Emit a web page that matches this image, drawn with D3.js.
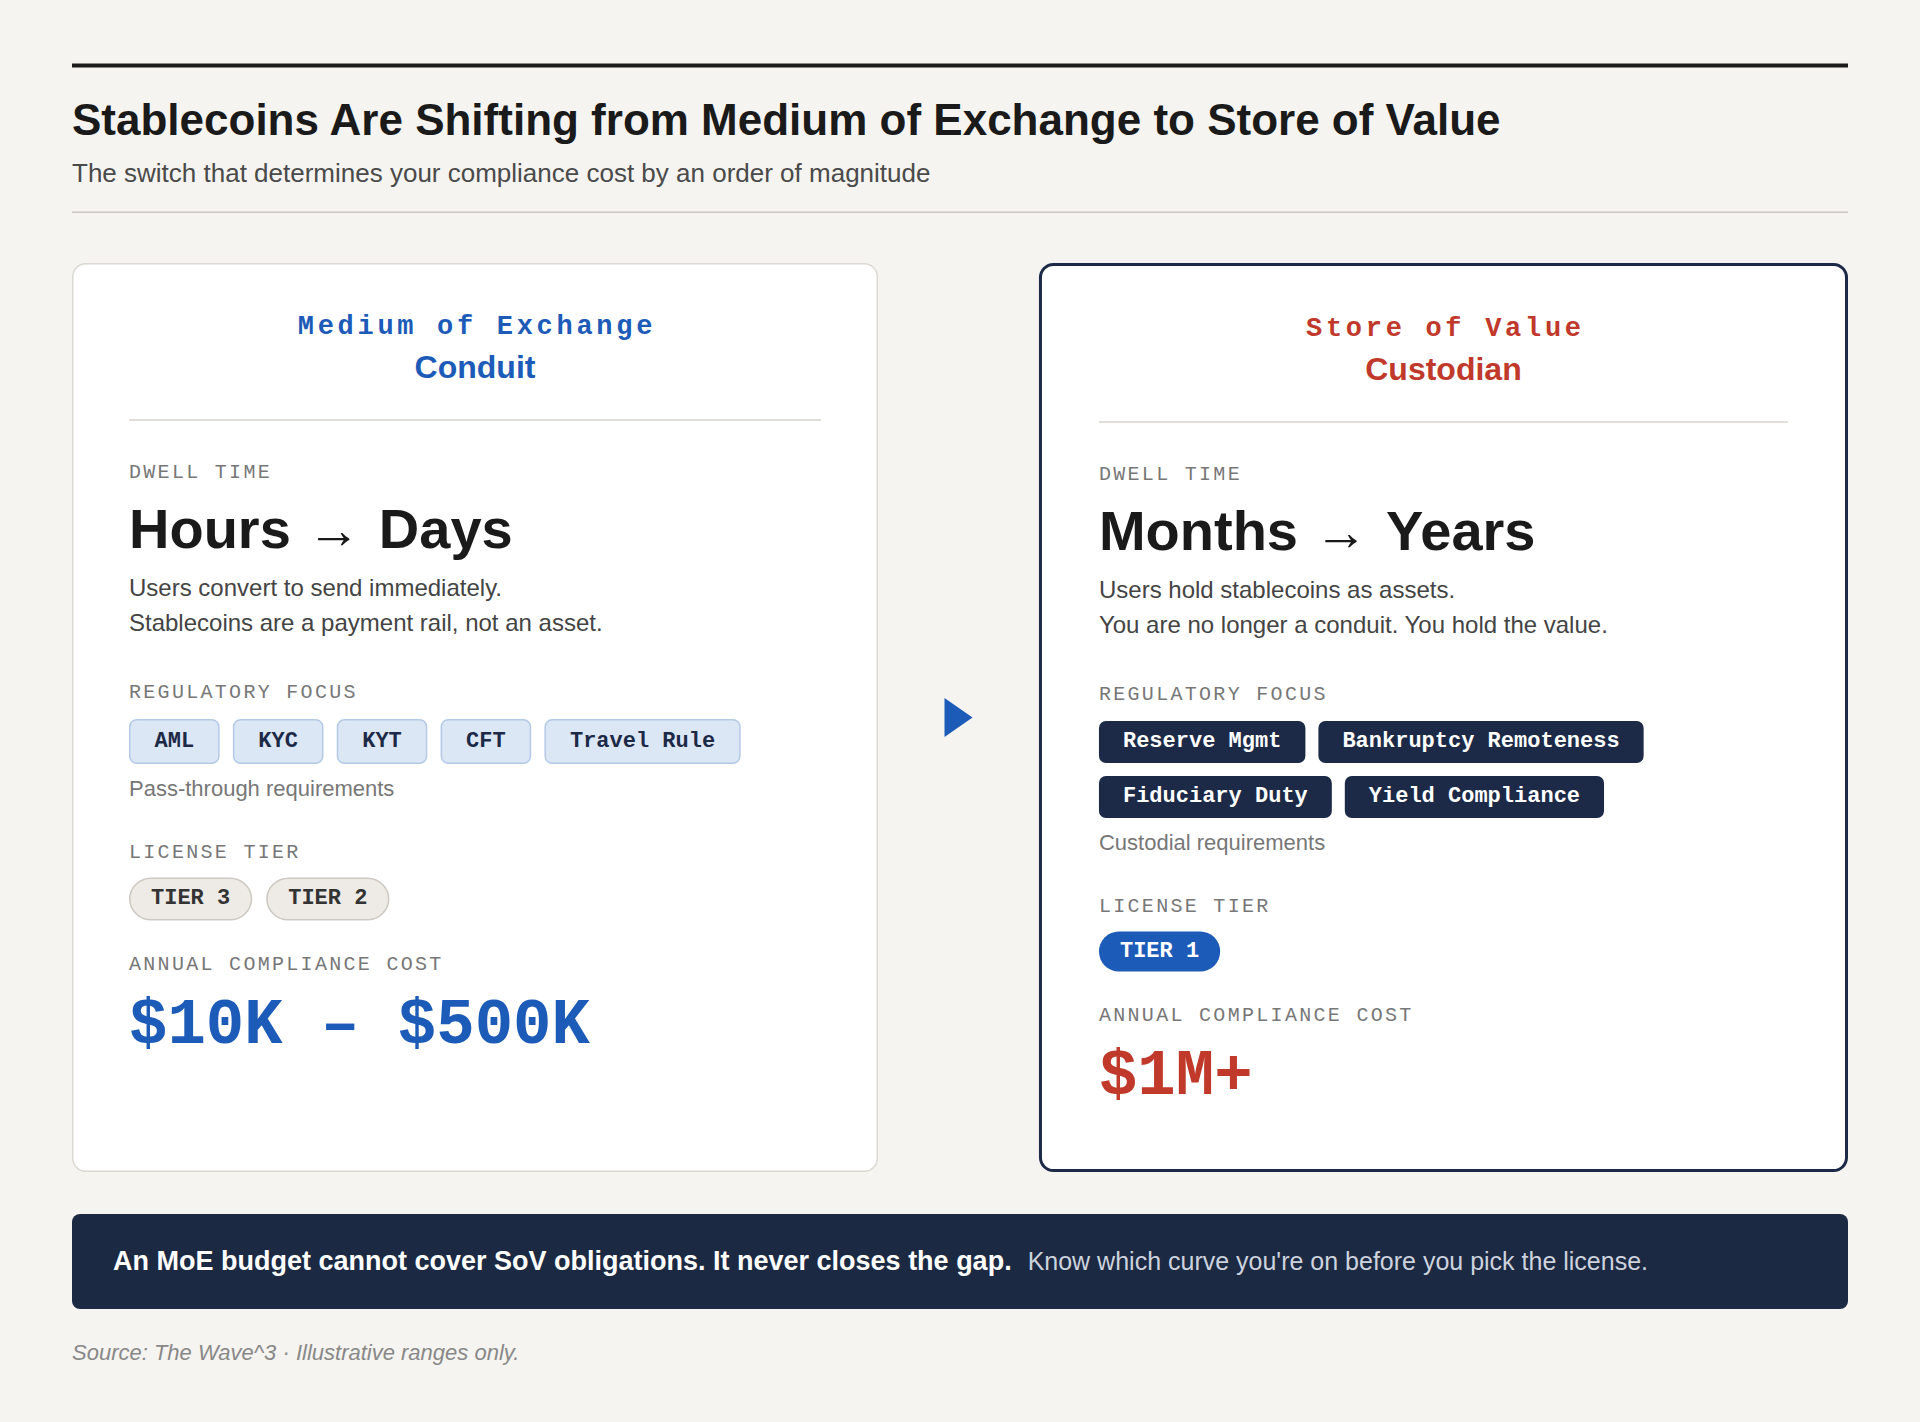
<!DOCTYPE html>
<html>
<head>
<meta charset="utf-8">
<script src="https://cdn.jsdelivr.net/npm/d3@7"></script>
<style>
html, body { margin: 0; padding: 0; background: #f5f4f0; }
svg { display: block; }
</style>
</head>
<body>
<script>
// ---- data ----
var titleText = "Stablecoins Are Shifting from Medium of Exchange to Store of Value";
var subtitleText = "The switch that determines your compliance cost by an order of magnitude";
var regimes = ["Medium of Exchange", "Store of Value"];
var roles = ["Conduit", "Custodian"];
var dwellFrom = ["Hours", "Months"];
var dwellTo = ["Days", "Years"];
var dwellNotes = [
  ["Users convert to send immediately.", "Stablecoins are a payment rail, not an asset."],
  ["Users hold stablecoins as assets.", "You are no longer a conduit. You hold the value."]
];
var focusTags = [
  ["AML", "KYC", "KYT", "CFT", "Travel Rule"],
  ["Reserve Mgmt", "Bankruptcy Remoteness", "Fiduciary Duty", "Yield Compliance"]
];
var focusNotes = ["Pass-through requirements", "Custodial requirements"];
var licenseTiers = [["TIER 3", "TIER 2"], ["TIER 1"]];
var costRanges = ["$10K \u2013 $500K", "$1M+"];
var sectionLabels = ["DWELL TIME", "REGULATORY FOCUS", "LICENSE TIER", "ANNUAL COMPLIANCE COST"];
var takeawayBold = "An MoE budget cannot cover SoV obligations. It never closes the gap.";
var takeawayRest = "Know which curve you're on before you pick the license.";
var sourceText = "Source: The Wave^3 \u00b7 Illustrative ranges only.";

// ---- look ----
var W = 1920, H = 1422;
var margin = {left: 72, right: 72};
var sans = "'Liberation Sans', Arial, Helvetica, sans-serif";
var mono = "'Liberation Mono', 'Courier New', monospace";
var ink = "#1a1a1a", navy = "#1c2a47", blue = "#1d5bb8", red = "#c0392b";
var accent = [blue, red];
var cardStroke = ["#dcd8d2", navy], cardStrokeW = [1.5, 3];
var tagStyle = [
  {fill: "#dce7f5", stroke: "#b3c9e6", sw: 1.5, text: navy, h: 45, pad: 25.5, gap: 13.25},
  {fill: navy, stroke: "none", sw: 0, text: "#fff", h: 42, pad: 24, gap: 13}
];
var tierStyle = [
  {fill: "#eeebe6", stroke: "#cdc8c1", sw: 1.5, text: "#333", h: 43, pad: 22, gap: 14},
  {fill: blue, stroke: "none", sw: 0, text: "#fff", h: 40, pad: 21, gap: 14}
];

var svg = d3.select("body").append("svg")
  .attr("width", W)
  .attr("height", H);

svg.append("rect").attr("width", W).attr("height", H).attr("fill", "#f5f4f0");

// measure a string with given font settings
function measure(str, family, size, weight) {
  var t = svg.append("text")
    .attr("font-family", family).attr("font-size", size).attr("font-weight", weight || "normal")
    .text(str);
  var w = t.node().getComputedTextLength();
  t.remove();
  return w;
}

// ---- header ----
svg.append("rect")
  .attr("x", margin.left).attr("y", 63.5)
  .attr("width", W - margin.left - margin.right).attr("height", 4)
  .attr("fill", ink);

svg.append("text")
  .attr("x", margin.left).attr("y", 135)
  .attr("font-family", sans).attr("font-size", 44).attr("font-weight", "bold")
  .attr("fill", ink)
  .text(titleText);

svg.append("text")
  .attr("x", margin.left).attr("y", 181.5)
  .attr("font-family", sans).attr("font-size", 26)
  .attr("fill", "#4a4a4a")
  .text(subtitleText);

svg.append("rect")
  .attr("x", margin.left).attr("y", 211.5)
  .attr("width", W - margin.left - margin.right).attr("height", 1.5)
  .attr("fill", "#c9c6c0");

// ---- cards ----
var cardTop = 263, cardBottom = 1172;
var xCard = d3.scaleBand()
  .domain(d3.range(regimes.length))
  .range([margin.left, W - margin.right])
  .paddingInner(0.169);

function drawPills(g, items, x0, y0, maxW, st) {
  var x = x0, y = y0;
  items.forEach(function(d) {
    var tw = measure(d, mono, 22, "bold");
    var w = tw + st.pad * 2;
    if (x > x0 && x + w > x0 + maxW) { x = x0; y += st.h + 13; }
    g.append("rect")
      .attr("x", x + st.sw / 2).attr("y", y + st.sw / 2)
      .attr("width", w - st.sw).attr("height", st.h - st.sw)
      .attr("rx", st.rx).attr("ry", st.rx)
      .attr("fill", st.fill)
      .attr("stroke", st.stroke).attr("stroke-width", st.sw);
    g.append("text")
      .attr("x", x + w / 2).attr("y", y + st.h / 2 + 5)
      .attr("text-anchor", "middle")
      .attr("font-family", mono).attr("font-size", 22).attr("font-weight", "bold")
      .attr("fill", st.text)
      .text(d);
    x += w + st.gap;
  });
  return y + st.h;
}

function sectionLabel(g, str, x, y) {
  g.append("text")
    .attr("x", x).attr("y", y)
    .attr("font-family", mono).attr("font-size", 20)
    .attr("letter-spacing", 2.3)
    .attr("fill", "#777")
    .text(str);
}

regimes.forEach(function(regime, i) {
  var g = svg.append("g").attr("class", "card");
  // the framed card sits a touch wider on its left edge
  var shift = i ? 3 : 0;
  var x = xCard(i) - shift, bw = xCard.bandwidth() + shift;
  var sw = cardStrokeW[i];
  var off = cardTop + (i ? 2 : 0);
  var cx = x + bw / 2;
  var padX = i ? 60 : 57;
  var left = x + padX, inner = bw - 2 * padX;

  g.append("rect")
    .attr("x", x + sw / 2).attr("y", cardTop + sw / 2)
    .attr("width", bw - sw).attr("height", cardBottom - cardTop - sw)
    .attr("rx", 13).attr("ry", 13)
    .attr("fill", "#fff")
    .attr("stroke", cardStroke[i]).attr("stroke-width", sw);

  g.append("text")
    .attr("x", cx + 1.9).attr("y", off + 71)
    .attr("text-anchor", "middle")
    .attr("font-family", mono).attr("font-size", 27).attr("font-weight", "bold")
    .attr("letter-spacing", 3.7)
    .attr("fill", accent[i])
    .text(regime);

  g.append("text")
    .attr("x", cx).attr("y", off + 114.5)
    .attr("text-anchor", "middle")
    .attr("font-family", sans).attr("font-size", 32).attr("font-weight", "bold")
    .attr("fill", accent[i])
    .text(roles[i]);

  g.append("rect")
    .attr("x", left).attr("y", off + 156)
    .attr("width", inner).attr("height", 2)
    .attr("fill", "#e2dfda");

  // dwell time
  sectionLabel(g, sectionLabels[0], left, off + 215);
  var bigY = off + 285;
  var bigSize = 56;
  var wFrom = measure(dwellFrom[i], sans, bigSize, "bold");
  g.append("text")
    .attr("x", left).attr("y", bigY)
    .attr("font-family", sans).attr("font-size", bigSize).attr("font-weight", "bold")
    .attr("fill", ink)
    .text(dwellFrom[i]);
  var arrowX = left + wFrom + 43;
  g.append("text")
    .attr("x", arrowX).attr("y", bigY - 19)
    .attr("text-anchor", "middle").attr("dominant-baseline", "central")
    .attr("font-family", sans).attr("font-size", 53)
    .attr("fill", ink)
    .text("\u2192");
  g.append("text")
    .attr("x", arrowX + 45).attr("y", bigY)
    .attr("font-family", sans).attr("font-size", bigSize).attr("font-weight", "bold")
    .attr("fill", ink)
    .text(dwellTo[i]);

  dwellNotes[i].forEach(function(line, k) {
    g.append("text")
      .attr("x", left).attr("y", off + 333 + k * 35)
      .attr("font-family", sans).attr("font-size", 24)
      .attr("fill", "#444")
      .text(line);
  });

  // regulatory focus
  sectionLabel(g, sectionLabels[1], left, off + 435);
  var ts = Object.assign({rx: 7}, tagStyle[i]);
  var tagsBottom = drawPills(g, focusTags[i], left, off + 456, inner, ts);

  var noteY = tagsBottom + 31.5;
  g.append("text")
    .attr("x", left).attr("y", noteY)
    .attr("font-family", sans).attr("font-size", 22)
    .attr("fill", "#777")
    .text(focusNotes[i]);

  // license tier
  var licY = noteY + 62;
  sectionLabel(g, sectionLabels[2], left, licY);
  var tr = Object.assign({}, tierStyle[i]);
  tr.rx = tr.h / 2;
  var tierBottom = drawPills(g, licenseTiers[i], left, licY + 20, inner, tr);

  // cost
  var annualY = tierBottom + 49.5;
  sectionLabel(g, sectionLabels[3], left, annualY);
  g.append("text")
    .attr("x", left).attr("y", annualY + 73)
    .attr("font-family", mono).attr("font-size", 64).attr("font-weight", "bold")
    .attr("fill", accent[i])
    .text(costRanges[i]);
});

// arrow between the cards
var gapMid = (xCard(0) + xCard.bandwidth() + xCard(1) - 3) / 2;
var midY = (cardTop + cardBottom) / 2;
var tri = d3.path();
tri.moveTo(gapMid - 14, midY - 19.5);
tri.lineTo(gapMid + 14, midY);
tri.lineTo(gapMid - 14, midY + 19.5);
tri.closePath();
svg.append("path").attr("d", tri.toString()).attr("fill", blue);

// ---- takeaway bar ----
svg.append("rect")
  .attr("x", margin.left).attr("y", 1214)
  .attr("width", W - margin.left - margin.right).attr("height", 95)
  .attr("rx", 8).attr("ry", 8)
  .attr("fill", "#1c2942");

var boldW = measure(takeawayBold, sans, 27, "bold");
svg.append("text")
  .attr("x", 113).attr("y", 1270)
  .attr("font-family", sans).attr("font-size", 27).attr("font-weight", "bold")
  .attr("fill", "#fff")
  .text(takeawayBold);
svg.append("text")
  .attr("x", 113 + boldW + 16).attr("y", 1270)
  .attr("font-family", sans).attr("font-size", 25)
  .attr("fill", "#cdd3de")
  .text(takeawayRest);

svg.append("text")
  .attr("x", margin.left).attr("y", 1360)
  .attr("font-family", sans).attr("font-size", 22).attr("font-style", "italic")
  .attr("fill", "#888")
  .text(sourceText);
</script>
</body>
</html>
